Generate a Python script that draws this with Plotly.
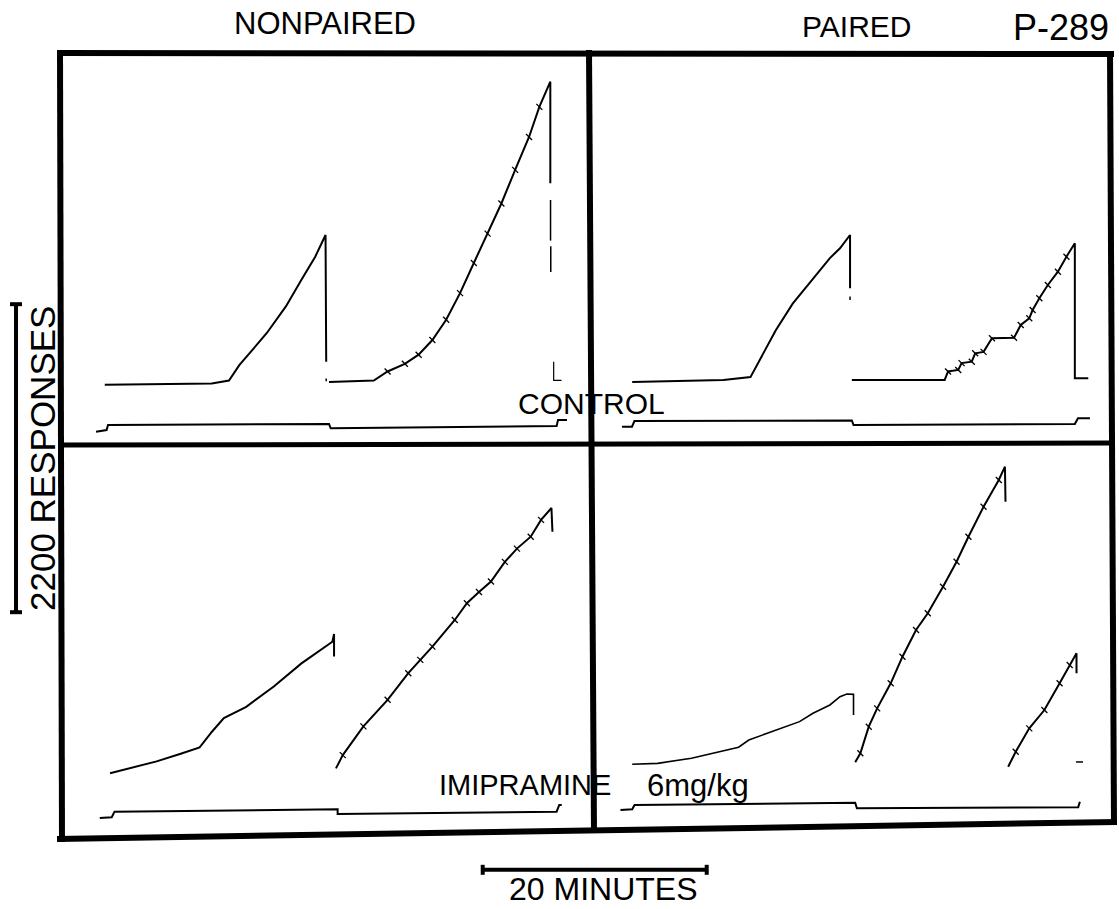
import plotly.graph_objects as go

W, H = 1119, 909
PX_PER_MIN = 224 / 20.0      # 20-minute bar is 224 px long
PX_PER_RESP = 308 / 2200.0   # 2200-response bar is 308 px long

# ---------------- DATA (minutes from panel left edge, responses from panel bottom) -------------
# Top-left: NONPAIRED, CONTROL
nc_rec1_min = [3.82, 13.37, 14.91, 15.83, 18.29, 19.99, 21.38, 22.61, 23.53, 23.59]
nc_rec1_resp = [430, 440, 460, 570, 800, 990, 1180, 1345, 1500, 595]
nc_dot_min = [23.59, 23.59]
nc_dot_resp = [475, 455]
nc_rec2_min = [23.84, 27.84, 29.07, 30.61, 31.84, 33.07, 34.30, 35.54, 36.77, 38.00, 39.23,
               40.46, 41.70, 42.62, 43.54, 43.60, 43.60]
nc_rec2_resp = [450, 460, 525, 580, 645, 750, 895, 1085, 1300, 1510, 1725,
                1965, 2200, 2415, 2595, 2595, 1870]
nc_reset_min = [43.62, 43.62, None, 43.64, 43.64]
nc_reset_resp = [1750, 1460, None, 1420, 1235]
nc_mark_min = [43.9, 43.9, 44.6]
nc_mark_resp = [595, 462, 462]
nc_event_min = [3.04, 3.98, 4.11, 23.84, 23.99, 44.16, 44.29, 45.09]
nc_event_val = [95, 107, 143, 150, 119, 136, 179, 179]

# Top-right: PAIRED, CONTROL
pc_rec1_min = [3.59, 11.73, 14.15, 15.51, 16.41, 17.92, 19.43, 21.24, 22.14, 23.04, 23.04]
pc_rec1_resp = [450, 465, 485, 680, 820, 1010, 1155, 1335, 1405, 1500, 1120]
pc_dot_min = [23.04, 23.04]
pc_dot_resp = [1060, 1035]
pc_rec2_min = [23.20, 31.49, 31.79, 32.70, 33.00, 33.91, 34.21, 34.96, 35.71, 37.68, 38.28,
               39.04, 39.34, 39.94, 40.70, 41.60, 42.36, 43.11, 43.11, 44.31]
pc_rec2_resp = [465, 465, 525, 536, 585, 595, 655, 665, 762, 766, 857,
                905, 964, 1048, 1143, 1238, 1345, 1441, 476, 476]
pc_event_min = [2.68, 3.57, 3.79, 23.20, 23.35, 43.11, 43.39, 44.46]
pc_event_val = [131, 131, 171, 175, 143, 150, 191, 191]

# Bottom-left: NONPAIRED, IMIPRAMINE
ni_rec1_min = [4.29, 5.98, 8.45, 10.60, 12.29, 13.37, 14.45, 16.45, 18.91, 21.38, 24.14, 24.29, 24.29]
ni_rec1_resp = [405, 440, 490, 545, 590, 700, 800, 880, 1025, 1190, 1345, 1400, 1240]
ni_rec2_min = [24.46, 25.07, 26.91, 29.07, 30.92, 31.99, 33.07, 35.07, 36.15, 37.23, 38.30,
               39.54, 40.62, 41.85, 42.77, 43.70, 43.79]
ni_rec2_resp = [440, 535, 740, 930, 1120, 1215, 1310, 1500, 1620, 1700, 1775,
                1915, 2010, 2095, 2215, 2300, 2130]
ni_event_min = [3.37, 4.44, 4.69, 24.61, 24.61, 44.16, 44.40, 44.62]
ni_event_val = [85, 91, 131, 148, 114, 131, 179, 179]

# Bottom-right: PAIRED, IMIPRAMINE
pi_rec1_min = [3.59, 5.86, 8.88, 11.59, 13.09, 14.00, 16.41, 18.53, 19.73, 21.24, 22.14, 22.75, 23.35, 23.35]
pi_rec1_resp = [470, 476, 512, 566, 591, 643, 714, 774, 834, 893, 952, 971, 969, 821]
pi_rec2_min = [23.50, 23.96, 24.71, 25.46, 26.67, 27.72, 28.93, 29.98, 31.34, 32.55, 33.61,
               34.96, 36.32, 36.87, 36.92]
pi_rec2_resp = [484, 548, 738, 869, 1048, 1238, 1429, 1548, 1738, 1916, 2095,
                2309, 2500, 2595, 2345]
pi_rec3_min = [37.16, 37.83, 39.04, 40.39, 41.75, 42.65, 43.26, 43.26]
pi_rec3_resp = [452, 559, 726, 857, 1048, 1179, 1262, 1119]
pi_dash_min = [43.21, 43.84]
pi_dash_resp = [486, 486]
pi_event_min = [2.54, 3.59, 3.80, 23.50, 23.65, 43.41, 43.56]
pi_event_val = [143, 148, 179, 195, 155, 162, 202]

# Calibration bars
bar_minutes = 20
bar_responses = 2200
bar_min_origin = (43.1, 280)      # (minutes, responses) on the page axis
bar_resp_origin = (1.43, 2120)

# Texts
col_labels = ["NONPAIRED", "PAIRED"]
subject_label = "P-289"
row_labels = ["CONTROL", "IMIPRAMINE"]
dose_label = "6mg/kg"
x_bar_label = "20 MINUTES"
y_bar_label = "2200 RESPONSES"

# ---------------- LAYOUT GEOMETRY (pixels) ----------------
panels = {
    "tl": (62, 53, 590, 445),
    "tr": (592, 53, 1111, 445),
    "bl": (62, 445, 590, 830),
    "br": (592, 445, 1111, 830),
}
axis_ids = {"tl": "", "tr": "2", "bl": "3", "br": "4"}

fig = go.Figure()
FONT = "Liberation Sans, Arial, sans-serif"

layout_axes = {}
for key, (l, t, r, b) in panels.items():
    n = axis_ids[key]
    layout_axes["xaxis" + n] = dict(domain=[l / W, r / W], range=[0, (r - l) / PX_PER_MIN],
                                    visible=False, anchor="y" + n, fixedrange=True)
    layout_axes["yaxis" + n] = dict(domain=[1 - b / H, 1 - t / H], range=[0, (b - t) / PX_PER_RESP],
                                    visible=False, anchor="x" + n, fixedrange=True)
# whole-page axis for calibration bars
layout_axes["xaxis5"] = dict(domain=[0, 1], range=[0, W / PX_PER_MIN], visible=False,
                             anchor="y5", fixedrange=True)
layout_axes["yaxis5"] = dict(domain=[0, 1], range=[0, H / PX_PER_RESP], visible=False,
                             anchor="x5", fixedrange=True)


def add_line(x, y, n, width=2.0, color="black"):
    fig.add_trace(go.Scatter(x=x, y=y, mode="lines", xaxis="x" + n, yaxis="y" + n,
                             line=dict(color=color, width=width), hoverinfo="skip",
                             showlegend=False, connectgaps=False))


def add_pips(x, y, n):
    fig.add_trace(go.Scatter(x=x, y=y, mode="markers", xaxis="x" + n, yaxis="y" + n,
                             marker=dict(symbol="line-nw", size=6,
                                         line=dict(color="black", width=1.3)),
                             hoverinfo="skip", showlegend=False))


# Top-left
n = axis_ids["tl"]
add_line(nc_rec1_min, nc_rec1_resp, n)
add_line(nc_dot_min, nc_dot_resp, n, 1.5)
add_line(nc_rec2_min, nc_rec2_resp, n)
add_pips(nc_rec2_min[2:14], nc_rec2_resp[2:14], n)
add_line(nc_reset_min, nc_reset_resp, n, 1.5)
add_line(nc_mark_min, nc_mark_resp, n, 1.2)
add_line(nc_event_min, nc_event_val, n)

# Top-right
n = axis_ids["tr"]
add_line(pc_rec1_min, pc_rec1_resp, n)
add_line(pc_dot_min, pc_dot_resp, n, 1.5)
add_line(pc_rec2_min, pc_rec2_resp, n)
add_pips(pc_rec2_min[2:17], pc_rec2_resp[2:17], n)
add_line(pc_event_min, pc_event_val, n)

# Bottom-left
n = axis_ids["bl"]
add_line(ni_rec1_min, ni_rec1_resp, n)
add_line(ni_rec2_min, ni_rec2_resp, n)
add_pips(ni_rec2_min[1:15], ni_rec2_resp[1:15], n)
add_line(ni_event_min, ni_event_val, n)

# Bottom-right
n = axis_ids["br"]
add_line(pi_rec1_min, pi_rec1_resp, n, 1.6)
add_line(pi_rec2_min, pi_rec2_resp, n)
add_pips(pi_rec2_min[1:13], pi_rec2_resp[1:13], n)
add_line(pi_rec3_min, pi_rec3_resp, n)
add_pips(pi_rec3_min[1:6], pi_rec3_resp[1:6], n)
add_line(pi_dash_min, pi_dash_resp, n, 1.5)
add_line(pi_event_min, pi_event_val, n)

# Calibration bars on the page axis
cap_resp = 5 / PX_PER_RESP
cap_min = 6 / PX_PER_MIN
x0, y0 = bar_min_origin
add_line([x0, x0 + bar_minutes], [y0, y0], "5", 4)
add_line([x0, x0], [y0 - cap_resp, y0 + cap_resp], "5", 4)
add_line([x0 + bar_minutes, x0 + bar_minutes], [y0 - cap_resp, y0 + cap_resp], "5", 4)
vx, vy = bar_resp_origin
add_line([vx, vx], [vy, vy + bar_responses], "5", 4)
add_line([vx - cap_min, vx + cap_min], [vy, vy], "5", 4)
add_line([vx - cap_min, vx + cap_min], [vy + bar_responses, vy + bar_responses], "5", 4)

# Frame (pixel -> paper)
def seg(x_a, y_a, x_b, y_b, w=6):
    return dict(type="line", xref="paper", yref="paper",
                x0=x_a / W, y0=1 - y_a / H, x1=x_b / W, y1=1 - y_b / H,
                line=dict(color="black", width=w))

shapes = [
    seg(57, 53, 1114, 54),       # top
    seg(60, 50, 62, 842),        # left
    seg(1110, 51, 1114, 825),    # right
    seg(57, 839, 1117, 822),     # bottom
    seg(589, 50, 594, 832),      # middle vertical
    seg(60, 445, 1112, 443, 5),  # middle horizontal
]

def ann(text, x, y, size, angle=0, xanchor="center"):
    return dict(text=text, x=x / W, y=1 - y / H, xref="paper", yref="paper",
                showarrow=False, textangle=angle, xanchor=xanchor, yanchor="middle",
                font=dict(family=FONT, size=size, color="black"))

annotations = [
    ann(col_labels[0], 325, 24, 31),
    ann(col_labels[1], 856, 26, 30),
    ann(subject_label, 1061, 27, 36),
    ann(row_labels[0], 592, 403, 30),
    ann(row_labels[1], 437, 785, 29, xanchor="left"),
    ann(dose_label, 645, 785, 31, xanchor="left"),
    ann(x_bar_label, 603, 889, 32),
    ann(y_bar_label, 42, 459, 35, angle=-90),
]

fig.update_layout(
    width=W, height=H, autosize=False,
    margin=dict(l=0, r=0, t=0, b=0, pad=0),
    paper_bgcolor="white", plot_bgcolor="rgba(0,0,0,0)",
    showlegend=False, shapes=shapes, annotations=annotations,
    **layout_axes,
)

fig.write_html("out.html", config={"displayModeBar": False, "staticPlot": True},
               post_script="document.body.style.margin='0px';document.body.style.overflow='hidden';")
